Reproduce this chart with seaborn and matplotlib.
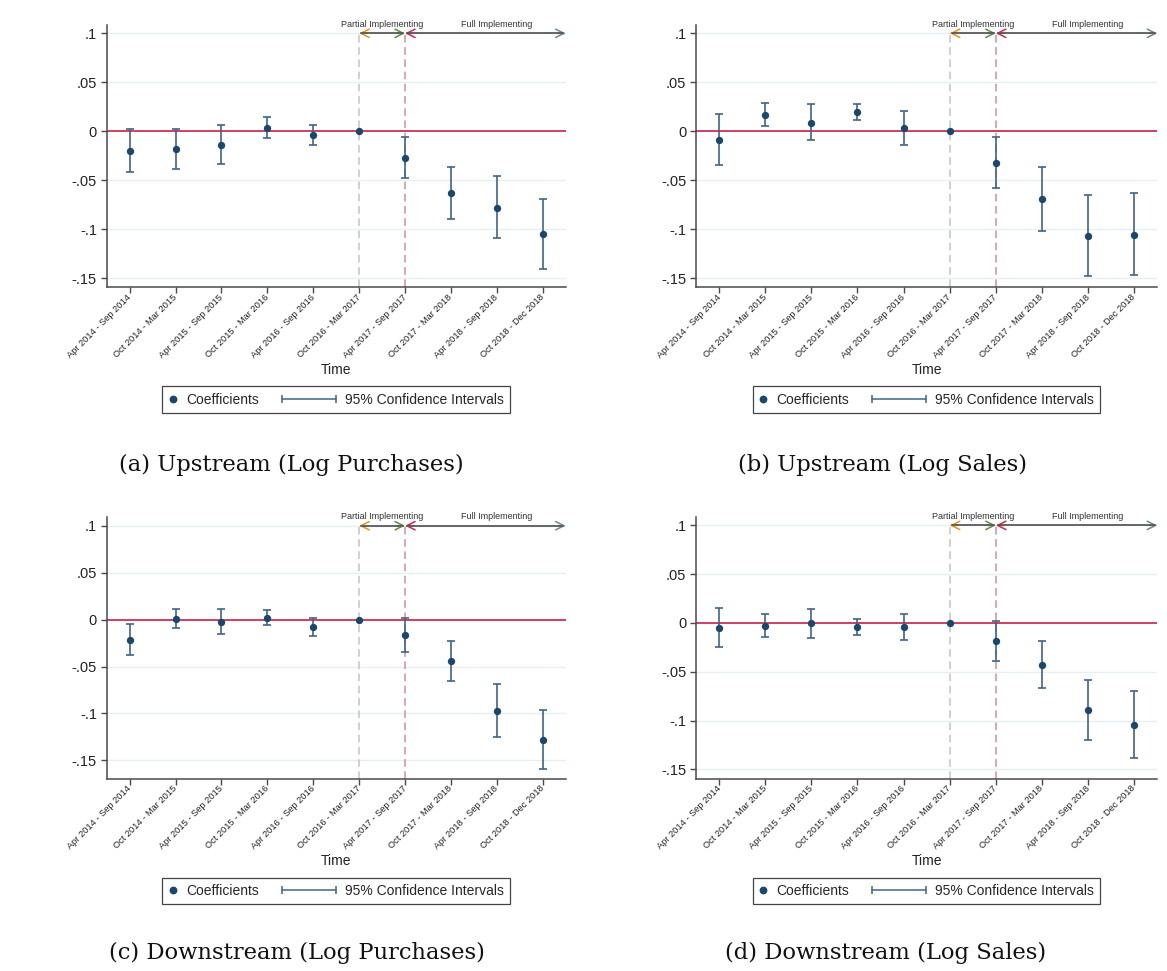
import numpy as np
import pandas as pd
import matplotlib
matplotlib.use("Agg")
import matplotlib.pyplot as plt
import seaborn as sns
from matplotlib.lines import Line2D
from matplotlib.legend_handler import HandlerBase

# ---------------- data ----------------
periods = ["Apr 2014 - Sep 2014", "Oct 2014 - Mar 2015", "Apr 2015 - Sep 2015",
           "Oct 2015 - Mar 2016", "Apr 2016 - Sep 2016", "Oct 2016 - Mar 2017",
           "Apr 2017 - Sep 2017", "Oct 2017 - Mar 2018", "Apr 2018 - Sep 2018",
           "Oct 2018 - Dec 2018"]

coef_a = [-0.0199, -0.0185, -0.0141, 0.0033, -0.0042, 0.0, -0.0270, -0.0631, -0.0781, -0.1050]
hi_a = [0.0023, 0.0019, 0.0064, 0.0142, 0.0064, np.nan, -0.0056, -0.0362, -0.0461, -0.0689]
lo_a = [-0.0416, -0.0382, -0.0338, -0.0073, -0.0141, np.nan, -0.0481, -0.0897, -0.1091, -0.1404]

coef_b = [-0.0086, 0.0166, 0.0088, 0.0196, 0.0030, 0.0, -0.0321, -0.0696, -0.1067, -0.1057]
hi_b = [0.0176, 0.0288, 0.0278, 0.0282, 0.0210, np.nan, -0.0059, -0.0365, -0.0651, -0.0634]
lo_b = [-0.0342, 0.0050, -0.0093, 0.0118, -0.0141, np.nan, -0.0576, -0.1016, -0.1475, -0.1468]

coef_c = [-0.0214, 0.0009, -0.0023, 0.0016, -0.0083, 0.0, -0.0165, -0.0442, -0.0971, -0.1283]
hi_c = [-0.0044, 0.0112, 0.0112, 0.0102, 0.0020, np.nan, 0.0016, -0.0225, -0.0683, -0.0960]
lo_c = [-0.0381, -0.0090, -0.0151, -0.0058, -0.0179, np.nan, -0.0342, -0.0658, -0.1255, -0.1596]

coef_d = [-0.0048, -0.0031, -0.0004, -0.0045, -0.0045, 0.0, -0.0189, -0.0428, -0.0892, -0.1049]
hi_d = [0.0150, 0.0088, 0.0146, 0.0040, 0.0095, np.nan, 0.0016, -0.0189, -0.0581, -0.0701]
lo_d = [-0.0243, -0.0148, -0.0154, -0.0120, -0.0171, np.nan, -0.0390, -0.0663, -0.1196, -0.1387]

captions = ["(a) Upstream (Log Purchases)", "(b) Upstream (Log Sales)",
            "(c) Downstream (Log Purchases)", "(d) Downstream (Log Sales)"]
ytick_vals = [0.1, 0.05, 0.0, -0.05, -0.1, -0.15]
ytick_labels = [".1", ".05", "0", "-.05", "-.1", "-.15"]
partial_label = "Partial Implementing"
full_label = "Full Implementing"
xlabel = "Time"
legend_labels = ["Coefficients", "95% Confidence Intervals"]

# ---------------- style ----------------
sns.set_theme(style="white")
plt.rcParams["font.family"] = ["Liberation Sans", "DejaVu Sans"]

W, H = 1167, 971
fig = plt.figure(figsize=(W / 100, H / 100), dpi=100)
fig.patch.set_facecolor("white")

# axes boxes in pixels: left, right, top, bottom
boxes = [(106.7, 565.7, 25.0, 287.3), (696.0, 1157.3, 25.0, 287.3),
         (106.7, 565.7, 516.7, 778.7), (696.0, 1157.3, 516.7, 778.7)]
ylims = [(-0.1594, 0.1085), (-0.1594, 0.1085), (-0.1695, 0.1096), (-0.1596, 0.1089)]
cap_pos = [(291.5, 471.5), (883.0, 471.5), (296.5, 959.0), (886.0, 959.0)]

panels = [(coef_a, lo_a, hi_a), (coef_b, lo_b, hi_b), (coef_c, lo_c, hi_c), (coef_d, lo_d, hi_d)]

PT_COLOR = "#1a476f"
CI_COLOR = "#3f6489"
SPINE = "#4a4a4a"


class HandlerCI(HandlerBase):
    def __init__(self, ext):
        super().__init__()
        self.ext = ext

    def create_artists(self, legend, orig_handle, xdescent, ydescent, width, height,
                       fontsize, trans):
        yc = height / 2 - ydescent
        x0 = -xdescent - self.ext
        x1 = -xdescent + width
        ln = Line2D([x0, x1], [yc, yc], color=CI_COLOR, lw=1.1, marker="|",
                    markersize=5.5, markeredgewidth=1.1)
        ln.set_transform(trans)
        return [ln]


xpos = np.arange(1, len(periods) + 1)

for i, (coef, lo, hi) in enumerate(panels):
    l, r, t, b = boxes[i]
    ax = fig.add_axes([l / W, 1 - b / H, (r - l) / W, (b - t) / H])
    ax.set_facecolor("white")
    df = pd.DataFrame({"x": xpos, "coef": coef, "lo": lo, "hi": hi, "period": periods})

    ax.set_xlim(0.5, len(periods) + 0.5)
    ax.set_ylim(*ylims[i])

    # grid
    for yv in ytick_vals:
        ax.axhline(yv, color="#e6eff1", lw=1.0, zorder=0)
    # zero line
    ax.axhline(0, color="#cc3355", lw=1.3, zorder=2)

    # vertical dashed lines
    ybot = ylims[i][0]
    ax.vlines(6, ybot, 0.1, colors="#c4c4c4", linestyles=(0, (5, 3)), lw=1.1, zorder=1)
    ax.vlines(7, ybot, 0.1, colors="#cf8f9a", linestyles=(0, (5, 3)), lw=1.1, zorder=1)

    # CIs
    m = df["lo"].notna()
    ax.errorbar(df.loc[m, "x"], df.loc[m, "coef"],
                yerr=[df.loc[m, "coef"] - df.loc[m, "lo"], df.loc[m, "hi"] - df.loc[m, "coef"]],
                fmt="none", ecolor=CI_COLOR, elinewidth=1.2, capsize=3.0, capthick=1.2, zorder=3)
    # points
    sns.scatterplot(data=df, x="x", y="coef", ax=ax, color=PT_COLOR, s=28,
                    edgecolor=PT_COLOR, linewidth=0, zorder=5, legend=False)

    # arrows at top
    def head(x_tip, direction, color):
        ax.annotate("", xy=(x_tip, 0.1), xytext=(x_tip - direction * 0.18, 0.1),
                    arrowprops=dict(arrowstyle="->,head_length=0.5,head_width=0.25",
                                    color=color, lw=1.1, shrinkA=0, shrinkB=0),
                    annotation_clip=False, zorder=6)
    head(6, -1, "#e8921c")
    head(7, 1, "#5e8e3e")
    head(7, -1, "#d0284c")
    head(len(periods) + 0.5, 1, "#6f8c7c")
    ax.plot([6.05, 6.95], [0.1, 0.1], color="#5a5a5a", lw=1.3, zorder=7, clip_on=False)
    ax.plot([7.05, len(periods) + 0.45], [0.1, 0.1], color="#5a5a5a", lw=1.3, zorder=7,
            clip_on=False)
    ax.text(6.5, 0.1048, partial_label, ha="center", va="bottom", fontsize=6.5,
            color="#333333", zorder=8)
    ax.text(9.0, 0.1048, full_label, ha="center", va="bottom", fontsize=6.5,
            color="#333333", zorder=8)

    # axes styling
    for s in ["top", "right"]:
        ax.spines[s].set_visible(False)
    for s in ["left", "bottom"]:
        ax.spines[s].set_color(SPINE)
        ax.spines[s].set_linewidth(1.1)
    ax.set_yticks(ytick_vals, ytick_labels)
    ax.set_xticks(xpos, periods)
    ax.tick_params(axis="y", direction="out", length=4, width=1.0, color=SPINE,
                   labelsize=10.5, labelcolor="#222222", pad=3, left=True)
    ax.tick_params(axis="x", direction="out", length=4, width=1.0, color=SPINE,
                   labelsize=6.7, labelcolor="#222222", pad=2, bottom=True)
    for lab in ax.get_xticklabels():
        lab.set_rotation(45)
        lab.set_ha("right")
        lab.set_va("center")
        lab.set_rotation_mode("anchor")
    ax.set_xlabel(xlabel, fontsize=10, color="#222222")
    ax.xaxis.set_label_coords(0.5, -0.288)
    ax.xaxis.label.set_va("top")
    ax.set_ylabel("")

    # legend
    h_pt = Line2D([], [], marker="o", linestyle="none", color=PT_COLOR, markersize=4.6)
    h_ci = Line2D([], [], color=CI_COLOR)
    leg = ax.legend([h_pt, h_ci], legend_labels, loc="center",
                    bbox_to_anchor=(0.5, -0.4285), ncol=2, frameon=True, fancybox=False,
                    handlelength=0.6, handletextpad=0.65, columnspacing=4.94,
                    borderpad=0.45, numpoints=1, prop={"family": "Liberation Sans", "size": 10},
                    handler_map={h_ci: HandlerCI(33.0)})
    fr = leg.get_frame()
    fr.set_edgecolor("#444444")
    fr.set_linewidth(0.9)
    fr.set_facecolor("white")
    fr.set_alpha(1)

    cx, cy = cap_pos[i]
    fig.text(cx / W, 1 - cy / H, captions[i], ha="center", va="baseline",
             fontfamily="DejaVu Serif", fontsize=16.3, color="#111111")

fig.savefig("out.png", dpi=100, facecolor="white")
